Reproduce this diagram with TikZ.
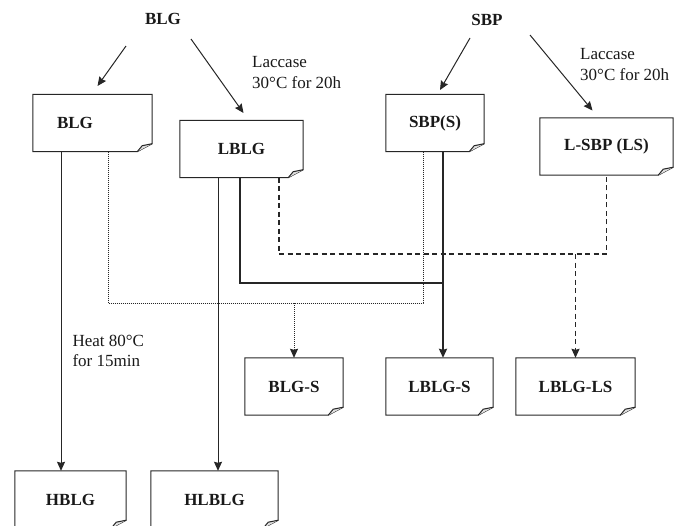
\documentclass[tikz,border=0pt]{standalone}
\usepackage{fontspec}
\setmainfont{Liberation Serif}
\usetikzlibrary{arrows.meta}
\begin{document}
\begin{tikzpicture}[x=1pt, y=-1pt, line join=miter,
    every node/.style={inner sep=3pt, text=black!90, font=\fontsize{17}{20.5}\selectfont},
    doc/.style={minimum width=#1, minimum height=57pt, inner sep=0pt, font=\fontsize{17}{20.5}\selectfont\bfseries},
    thin/.style={draw=black!85, line width=1pt},
    heavy/.style={draw=black!85, line width=2.8pt},
    dotline/.style={draw=black!85, line width=1pt, dash pattern=on 1pt off 1pt},
    dashline/.style={draw=black!85, line width=1.2pt, dash pattern=on 5pt off 3.5pt},
    arr/.style={-{Stealth[length=9pt, width=8pt, inset=1pt]}}]
  \useasboundingbox (0,0) rectangle (684,525);
  \node (blgtop) at (163,19) [font=\fontsize{17}{20.5}\selectfont\bfseries] {BLG};
  \node (sbptop) at (487,20) [font=\fontsize{17}{20.5}\selectfont\bfseries] {SBP};
  \node (blg) at (92.5,123) [doc=119pt, text width=71pt, align=left] {BLG};
  \node (lblg) at (241.5,149) [doc=123pt] {LBLG};
  \node (sbps) at (435,123) [doc=98pt] {SBP(S)};
  \node (lsbp) at (606.5,146.5) [doc=133pt] {L-SBP (LS)};
  \node (blgs) at (294,386.5) [doc=98pt] {BLG-S};
  \node (lblgs) at (439.5,386.5) [doc=107pt] {LBLG-S};
  \node (lblgls) at (575.5,386.5) [doc=119pt] {LBLG-LS};
  \node (hblg) at (70.5,499.5) [doc=111pt] {HBLG};
  \node (hlblg) at (214.5,499.5) [doc=127pt] {HLBLG};
  \foreach \n in {blg,lblg,sbps,lsbp,blgs,lblgs,lblgls,hblg,hlblg}{
    \draw[thin] (\n.north west) -- (\n.north east) -- ([shift={(0,-8)}]\n.south east)
      -- ([shift={(-15,0)}]\n.south east) -- (\n.south west) -- cycle;
    \draw[thin, fill=black!12] ([shift={(-15,0)}]\n.south east) -- ([shift={(-10,-6)}]\n.south east)
      -- ([shift={(0,-8)}]\n.south east);
  }
  \node (lacL) at (249,72.5) [anchor=west, align=left] {Laccase\\30°C for 20h};
  \node (lacR) at (577,64.5) [anchor=west, align=left] {Laccase\\30°C for 20h};
  \draw[thin, arr] ([shift={(-37,27)}]blgtop.center) -- ([shift={(5,-37)}]blg.center);
  \draw[thin, arr] ([shift={(28,20)}]blgtop.center) -- ([shift={(2,-36)}]lblg.center);
  \draw[thin, arr] ([shift={(-17,18)}]sbptop.center) -- ([shift={(5,-33)}]sbps.center);
  \draw[thin, arr] ([shift={(43,15)}]sbptop.center) -- ([shift={(-14,-36)}]lsbp.center);
  \coordinate (dotL) at (108,303);
  \coordinate (dotR) at (423,303);
  \coordinate (jS) at (443,283);
  \coordinate (dashL) at (279,254);
  \coordinate (dashR) at (606.5,254);
  \draw[thin, arr] ([xshift=-31.5pt]blg.south) coordinate (h1) -- (h1 |- hblg.north)
    node[pos=0.624, right=8pt, align=left] {Heat 80°C\\for 15min};
  \draw[thin, arr] ([xshift=-23.5pt]lblg.south) coordinate (h2) -- (h2 |- hlblg.north);
  \draw[dotline] (blg.south -| dotL) -- (dotL) -- (dotR) -- (sbps.south -| dotR);
  \draw[dotline, arr] (blgs.north |- dotL) -- (blgs.north);
  \draw[heavy] ([xshift=-1.5pt]lblg.south) |- (jS);
  \draw[heavy, arr] (sbps.south -| jS) -- (lblgs.north -| jS);
  \draw[dashline] (lblg.south -| dashL) -- (dashL) -- (dashR) -- (lsbp.south);
  \draw[dashline, arr] (lblgls.north |- dashL) -- (lblgls.north);
\end{tikzpicture}
\end{document}
